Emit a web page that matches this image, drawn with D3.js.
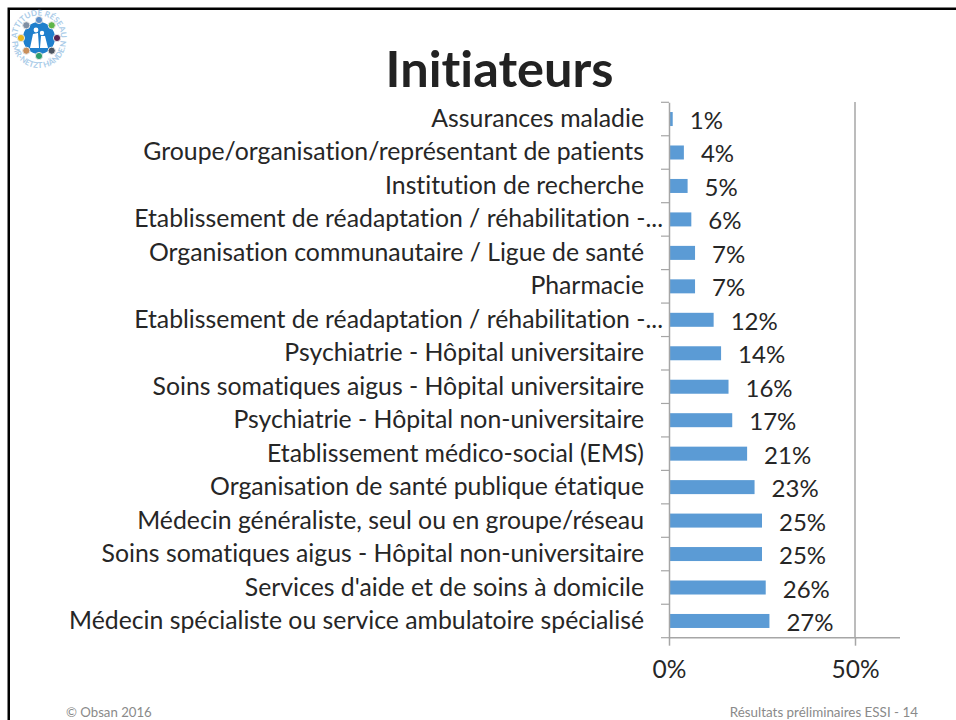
<!DOCTYPE html>
<html>
<head>
<meta charset="utf-8">
<script src="https://cdn.jsdelivr.net/npm/d3@7"></script>
<style>
  html, body { margin: 0; padding: 0; background: #fff; }
  svg { display: block; }
  text { font-family: Lato, "Open Sans", sans-serif; font-variant-ligatures: none; }
</style>
</head>
<body>
<svg width="956" height="720"></svg>
<script>
const categories = [
  "Assurances maladie",
  "Groupe/organisation/représentant de patients",
  "Institution de recherche",
  "Etablissement de réadaptation / réhabilitation -...",
  "Organisation communautaire / Ligue de santé",
  "Pharmacie",
  "Etablissement de réadaptation / réhabilitation -...",
  "Psychiatrie - Hôpital universitaire",
  "Soins somatiques aigus - Hôpital universitaire",
  "Psychiatrie - Hôpital non-universitaire",
  "Etablissement médico-social (EMS)",
  "Organisation de santé publique étatique",
  "Médecin généraliste, seul ou en groupe/réseau",
  "Soins somatiques aigus - Hôpital non-universitaire",
  "Services d'aide et de soins à domicile",
  "Médecin spécialiste ou service ambulatoire spécialisé"
];
const percents = [1, 4, 5, 6, 7, 7, 12, 14, 16, 17, 21, 23, 25, 25, 26, 27];
const xTicks = [0, 50];
const logoColors = ["#5b8fc9", "#5fb548", "#5a2350", "#4d5560", "#2e9e6b", "#c98f5a", "#e8b820", "#7f8fa3"];

const svg = d3.select("svg");

// slide frame, only top and left edges show
svg.append("path")
  .attr("d", "M8.75,720V8.75H956")
  .attr("fill", "none")
  .attr("stroke", "#000")
  .attr("stroke-width", 2.5);

// scales
const x = d3.scaleLinear().domain([0, 50]).range([669, 855]);
const y = d3.scaleBand().domain(d3.range(categories.length)).range([102.3, 637.7]);
const barHeight = 14;

// grid line at 50%
svg.append("line")
  .attr("x1", x(50)).attr("x2", x(50))
  .attr("y1", 102).attr("y2", 637.7)
  .attr("stroke", "#a6a6a6").attr("stroke-width", 1.5);

// bars
svg.selectAll(".bar")
  .data(percents)
  .enter()
  .append("rect")
  .attr("class", "bar")
  .attr("x", x(0))
  .attr("y", (d, i) => y(i) + y.bandwidth() / 2 - barHeight / 2)
  .attr("width", d => x(d) - x(0))
  .attr("height", barHeight)
  .attr("fill", "#5b9bd5");

// category axis
const yAxis = svg.append("g")
  .attr("transform", "translate(" + x(0) + ",0)")
  .call(d3.axisLeft(y).tickSize(0).tickFormat(""));
yAxis.select(".domain").attr("stroke", "#a6a6a6").attr("stroke-width", 1.5);
yAxis.selectAll(".tick").remove();
const yTicks = d3.range(categories.length + 1).map(i => 102.3 + i * y.step());
yAxis.selectAll(".sep")
  .data(yTicks)
  .enter()
  .append("line")
  .attr("class", "sep")
  .attr("x1", -8).attr("x2", 0)
  .attr("y1", d => d).attr("y2", d => d)
  .attr("stroke", "#a6a6a6").attr("stroke-width", 1.2);

// value axis
const xAxis = svg.append("g")
  .attr("transform", "translate(0,637.7)")
  .call(d3.axisBottom(x).tickValues(xTicks).tickSize(8).tickFormat(d => d + "%"));
xAxis.select(".domain")
  .attr("d", "M669,0H900")
  .attr("stroke", "#a6a6a6").attr("stroke-width", 1.5);
xAxis.selectAll(".tick line").attr("stroke", "#a6a6a6").attr("stroke-width", 1.5);
xAxis.selectAll(".tick text")
  .attr("y", 23)
  .attr("font-size", 24.5)
  .attr("fill", "#262626")
  .style("font-family", "Lato, 'Open Sans', sans-serif");

// category labels, the truncated ones run up to the axis
svg.selectAll(".cat")
  .data(categories)
  .enter()
  .append("text")
  .attr("class", "cat")
  .attr("x", d => d.endsWith("...") ? 663 : 644)
  .attr("y", (d, i) => y(i) + y.bandwidth() / 2 + 8)
  .attr("text-anchor", "end")
  .attr("font-size", 24.8)
  .attr("fill", "#262626")
  .text(d => d);

// value labels
svg.selectAll(".val")
  .data(percents)
  .enter()
  .append("text")
  .attr("class", "val")
  .attr("x", d => x(d) + 17)
  .attr("y", (d, i) => y(i) + y.bandwidth() / 2 + 10)
  .attr("font-size", 24)
  .attr("fill", "#262626")
  .text(d => d + "%");

// title
svg.append("text")
  .attr("x", 499.5).attr("y", 87)
  .attr("text-anchor", "middle")
  .attr("font-size", 50.5)
  .attr("font-weight", 700)
  .attr("fill", "#222")
  .text("Initiateurs");

// footer
svg.append("text")
  .attr("x", 66).attr("y", 717)
  .attr("font-size", 13.2).attr("fill", "#8a8a8a")
  .text("© Obsan 2016");
svg.append("text")
  .attr("x", 918).attr("y", 717)
  .attr("text-anchor", "end")
  .attr("font-size", 13.4).attr("fill", "#8a8a8a")
  .text("Résultats préliminaires ESSI - 14");

// logo
const logo = svg.append("g").attr("transform", "translate(39,38)");
const defs = logo.append("defs");
defs.append("path")
  .attr("id", "ringTop")
  .attr("d", "M-21,6A22,22 0 1 1 21,6");
defs.append("path")
  .attr("id", "ringBottom")
  .attr("d", "M-27,3A27,27 0 0 0 27,3");
logo.append("circle").attr("r", 16).attr("fill", "#1f7fcc");
logo.append("text")
  .attr("font-size", 8).attr("font-weight", 700).attr("fill", "#a9cbe8")
  .append("textPath").attr("href", "#ringTop").attr("startOffset", "50%")
  .attr("text-anchor", "middle").text("ATTITUDE RÉSEAU");
logo.append("text")
  .attr("font-size", 8).attr("font-weight", 700).attr("fill", "#a9cbe8")
  .append("textPath").attr("href", "#ringBottom").attr("startOffset", "50%")
  .attr("text-anchor", "middle").text("FMR-NETZT HÄNDE.N");
logo.selectAll(".person")
  .data(logoColors)
  .enter()
  .append("circle")
  .attr("class", "person")
  .attr("cx", (d, i) => 18 * Math.sin(i * Math.PI / 4))
  .attr("cy", (d, i) => -18 * Math.cos(i * Math.PI / 4))
  .attr("r", 3.6)
  .attr("fill", d => d)
  .attr("stroke", "#e6e6e6")
  .attr("stroke-width", 1);
logo.append("circle").attr("cx", -3).attr("cy", -8).attr("r", 2.4).attr("fill", "#fff");
logo.append("circle").attr("cx", 3).attr("cy", -5).attr("r", 2.2).attr("fill", "#fff");
logo.append("path").attr("d", "M-9,10L-6,-4L-1,-5L0,10ZM1,10L2,-2L6,-2L9,10Z").attr("fill", "#fff");
</script>
</body>
</html>
